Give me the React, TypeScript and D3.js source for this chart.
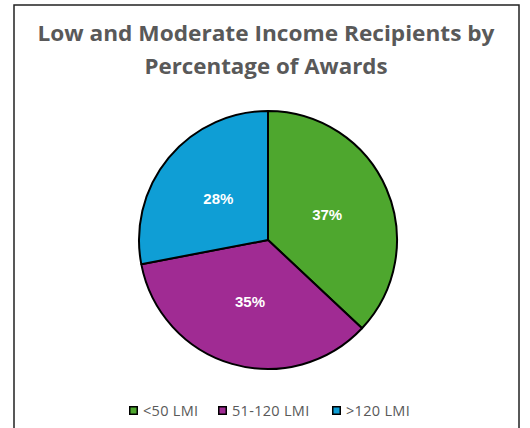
import React from "react";
import * as d3 from "d3";

const categories = ["<50 LMI", "51-120 LMI", ">120 LMI"];
const values = [37, 35, 28];
const colors = ["#4ea72e", "#a02b93", "#0f9ed5"];
const titleLines = ["Low and Moderate Income Recipients by", "Percentage of Awards"];

export default function App() {
  const W = 530, H = 428;
  const cx = 268, cy = 240, R = 129;
  const pie = d3.pie<number>().sort(null).value((d) => d)(values);
  const arc = d3.arc<d3.PieArcDatum<number>>().innerRadius(0).outerRadius(R);
  const labelArc = d3.arc<d3.PieArcDatum<number>>().innerRadius(R * 0.5).outerRadius(R * 0.5);

  const legendX = [129, 218, 332];
  return (
    <svg width={W} height={H} style={{ position: "absolute", left: 0, top: 0 }}>
      <rect x={0} y={0} width={W} height={H} fill="#fff" />
      <rect x={14} y={5} width={505} height={440} fill="#fff" stroke="#222" strokeWidth={1.5} />
      {titleLines.map((t, i) => (
        <text key={i} x={266} y={41 + i * 33} textAnchor="middle" fontFamily="'Open Sans', sans-serif"
          fontWeight={700} fontSize={21.5} fill="#595959" textLength={i === 0 ? 457 : 243}
          lengthAdjust="spacingAndGlyphs">{t}</text>
      ))}
      <g transform={`translate(${cx},${cy})`}>
        {pie.map((p, i) => (
          <path key={i} d={arc(p) || ""} fill={colors[i]} stroke="#000" strokeWidth={2} strokeLinejoin="round" />
        ))}
        {pie.map((p, i) => {
          const [x, y] = labelArc.centroid(p);
          return (
            <text key={i} x={x} y={y} dy="0.35em" textAnchor="middle" fontFamily="'Liberation Sans', Arial, sans-serif"
              fontWeight={700} fontSize={15} fill="#fff">{values[i]}%</text>
          );
        })}
      </g>
      {categories.map((c, i) => (
        <g key={i}>
          <rect x={legendX[i] + 0.75} y={406.75} width={7.5} height={7.5} fill={colors[i]} stroke="#000" strokeWidth={1.5} />
          <text x={legendX[i] + 14} y={415.5} fontFamily="'Open Sans', sans-serif" fontSize={14.5} letterSpacing={0.3} fill="#595959">{c}</text>
        </g>
      ))}
    </svg>
  );
}
